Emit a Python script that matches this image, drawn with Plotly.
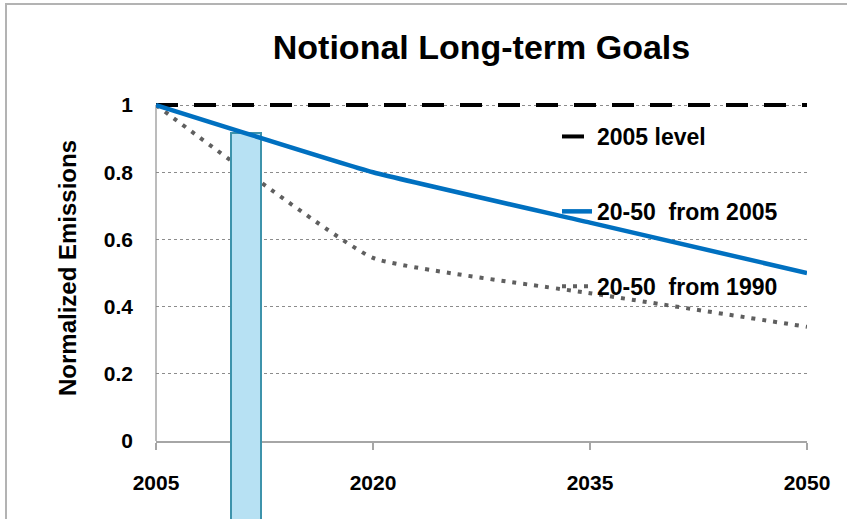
import plotly.graph_objects as go

# Years on the category axis and normalized emissions per scenario
years = [2005, 2020, 2035, 2050]
level_2005 = [1.0, 1.0, 1.0, 1.0]
from_2005 = [1.0, 0.80, 0.65, 0.50]
from_1990 = [1.0, 0.545, 0.44, 0.34]

# Marker bar showing the current year
marker_year = [2011.2]
marker_width = [2.07]
marker_top = [0.917]
marker_base = [-0.3]

tick_years = [2005, 2020, 2035, 2050]
tick_levels = [0, 0.2, 0.4, 0.6, 0.8, 1.0]

FONT = "Arial, Liberation Sans, sans-serif"

W, H = 847, 519
M_L, M_R, M_T = 156, 40, 95
AXIS_PX = 441                      # pixel row of the value 0
PLOT_H = H - M_T                   # full drawing height (bottom margin 0)
y_top = 1.03
px_per_unit = (AXIS_PX - M_T) / y_top
y_main_domain = [(H - AXIS_PX) / PLOT_H, 1]
# overlay axis spanning down to the page bottom, sharing the same scale and zero
y_low = y_top - PLOT_H / px_per_unit

fig = go.Figure()

fig.add_trace(go.Scatter(
    x=years, y=level_2005, name="2005 level", mode="lines",
    line=dict(color="black", width=4, dash="22px,16px"),
    legendgroup="a", legendrank=1, xaxis="x", yaxis="y",
))
fig.add_trace(go.Scatter(
    x=years, y=from_1990, name="20-50  from 1990", mode="lines",
    line=dict(color="#5f5f5f", width=4, dash="4px,7px", shape="spline", smoothing=0.35),
    legendgroup="c", legendrank=3, xaxis="x", yaxis="y",
))

# Upper layer: the marker bar covers the dotted series, the blue line runs above the bar
fig.add_trace(go.Bar(
    x=marker_year, y=[t - b for t, b in zip(marker_top, marker_base)], base=marker_base,
    width=marker_width, showlegend=False,
    marker=dict(color="#b7e1f3", line=dict(color="#3d93ab", width=2)),
    xaxis="x", yaxis="y3",
))
fig.add_trace(go.Scatter(
    x=years, y=from_2005, name="20-50  from 2005", mode="lines",
    line=dict(color="#0070c0", width=4.5, shape="spline", smoothing=0.35),
    legendgroup="b", legendrank=2, xaxis="x", yaxis="y3",
))

fig.update_layout(
    width=W, height=H,
    margin=dict(l=M_L, r=M_R, t=M_T, b=0),
    paper_bgcolor="white", plot_bgcolor="rgba(0,0,0,0)",
    font=dict(family=FONT, color="black", size=21, weight="bold"),
    title=dict(
        text="Notional Long-term Goals",
        font=dict(family=FONT, size=34, weight="bold", color="black"),
        x=0.5, xref="paper", xanchor="center",
        y=1 - 47 / H, yref="container", yanchor="middle",
    ),
    showlegend=True,
    legend=dict(
        x=(557 - M_L) / (W - M_L - M_R), xanchor="left",
        y=(H - 115) / PLOT_H, yanchor="top",
        bgcolor="rgba(0,0,0,0)",
        font=dict(family=FONT, size=23, weight="bold", color="black"),
        tracegroupgap=42, traceorder="grouped",
    ),
    bargap=0,
    xaxis=dict(
        range=[2005, 2050], tickvals=tick_years, ticktext=[str(v) for v in tick_years],
        anchor="y", showgrid=False, zeroline=False, automargin=False,
        showline=True, linecolor="#a6a6a6", linewidth=1.5,
        ticks="outside", ticklen=7, tickcolor="#a6a6a6", tickwidth=1.5,
        ticklabelstandoff=15, layer="below traces",
        tickfont=dict(family=FONT, size=21, weight="bold", color="black"),
    ),
    yaxis=dict(
        domain=y_main_domain, range=[0, y_top], anchor="x", automargin=False,
        tickvals=tick_levels, ticktext=["0", "0.2", "0.4", "0.6", "0.8", "1"],
        showgrid=True, gridcolor="#8c8c8c", gridwidth=1, griddash="dot",
        zeroline=False, showline=False, ticks="",
        ticklabelstandoff=22,
        tickfont=dict(family=FONT, size=21, weight="bold", color="black"),
        title=dict(text="Normalized Emissions", standoff=20,
                   font=dict(family=FONT, size=24, weight="bold", color="black")),
    ),
    yaxis3=dict(domain=[0, 1], range=[y_low, y_top], anchor="x", visible=False,
                showgrid=False, zeroline=False, automargin=False),
    shapes=[
        # vertical value-axis line from 0 to 1
        dict(type="line", xref="x domain", yref="y", x0=0, x1=0, y0=0, y1=1,
             line=dict(color="#a6a6a6", width=1.5), layer="below"),
        # chart frame
        dict(type="rect", xref="paper", yref="paper",
             x0=(6 - M_L) / (W - M_L - M_R), x1=1.2, y0=-0.5, y1=(H - 4) / PLOT_H,
             line=dict(color="#b3b3b3", width=2), layer="below"),
    ],
)

fig.write_html("out.html")
